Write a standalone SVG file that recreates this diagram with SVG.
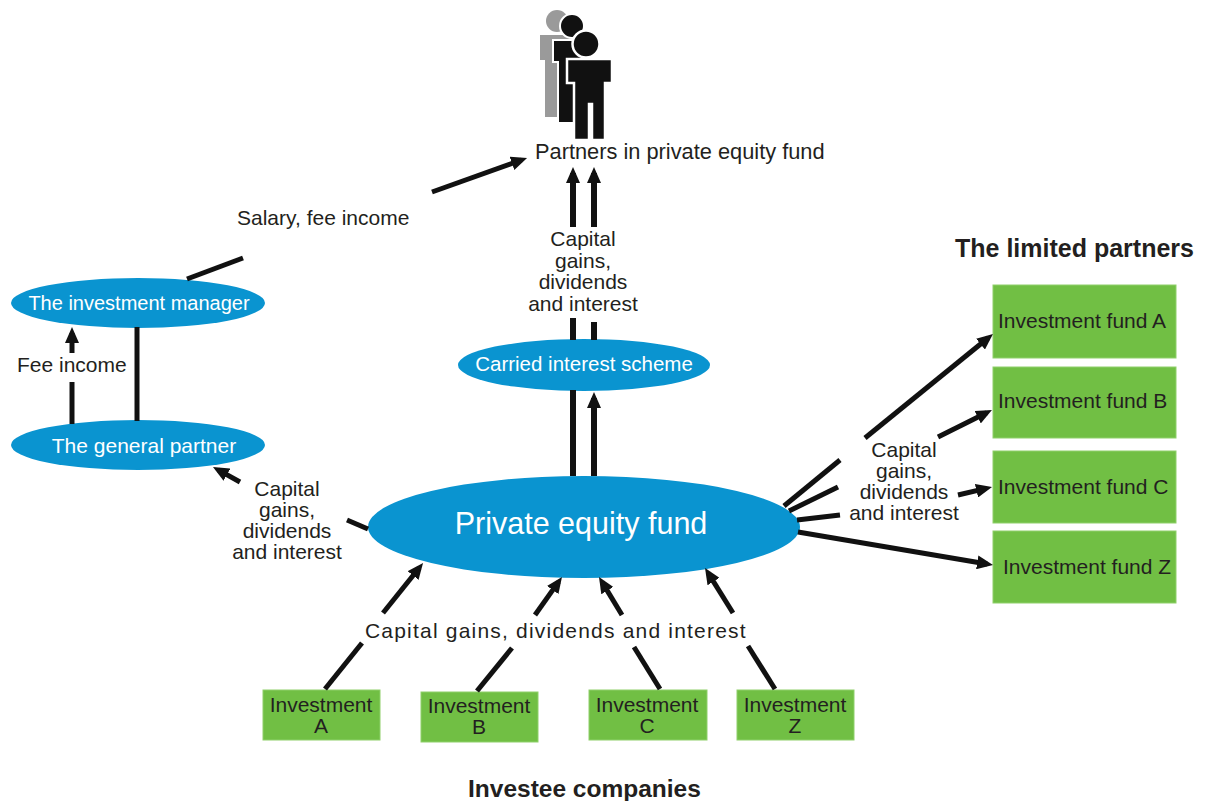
<svg xmlns="http://www.w3.org/2000/svg" width="1206" height="801" viewBox="0 0 1206 801">
<style>
.t{font-family:"Liberation Sans",Arial,sans-serif;font-size:21px;fill:#231f20}
.w{font-family:"Liberation Sans",Arial,sans-serif;fill:#ffffff;text-anchor:middle}
.b{font-family:"Liberation Sans",Arial,sans-serif;font-weight:bold;fill:#231f20}
.m{text-anchor:middle}
.ell{fill:#0a94d0}
.box{fill:#71bf44;stroke:#8fd06a;stroke-width:1}
.ln{stroke:#111111;stroke-width:5;fill:none}
.ar{stroke:#111111;stroke-width:5;fill:none;marker-end:url(#ah)}
.th{stroke-width:6}
</style>
<defs>
<marker id="ah" markerUnits="userSpaceOnUse" viewBox="0 0 16 14" markerWidth="16" markerHeight="14" refX="10" refY="7" orient="auto">
<path d="M0,0 L16,7 L0,14 z" fill="#111111"/>
</marker>
</defs>
<rect width="1206" height="801" fill="#ffffff"/>

<g id="partners">
<g fill="#9a9a9a">
<circle cx="557" cy="21" r="11"/>
<path d="M540,35 L572,35 L572,60 L567,60 L567,117 L545,117 L545,60 L540,60 Z"/>
</g>
<g fill="#111111" stroke="#ffffff" stroke-width="2">
<circle cx="572" cy="26" r="12"/>
<path d="M553,40 L586,40 L586,62 L581,62 L581,123 L558,123 L558,62 L553,62 Z"/>
</g>
<g fill="#111111" stroke="#ffffff" stroke-width="2.5">
<circle cx="586" cy="44" r="13.5"/>
<path d="M567,59 L612,59 L612,83 L605,83 L605,140 L592,140 L592,104 L589,104 L589,140 L574,140 L574,83 L567,83 Z"/>
</g>
<text class="t" x="535" y="159" style="font-size:21.8px">Partners in private equity fund</text>
</g>

<g id="investment-manager">
<ellipse class="ell" cx="138" cy="303" rx="127" ry="25"/>
<text class="w" x="139" y="310" font-size="20">The investment manager</text>
</g>

<g id="general-partner">
<ellipse class="ell" cx="138" cy="445" rx="127" ry="25"/>
<text class="w" x="144" y="453" font-size="21">The general partner</text>
</g>

<g id="carried-interest">
<ellipse class="ell" cx="584" cy="365" rx="126" ry="26"/>
<text class="w" x="584" y="371" font-size="20.5">Carried interest scheme</text>
</g>

<g id="private-equity-fund">
<ellipse class="ell" cx="584" cy="527" rx="216" ry="51"/>
<text class="w" x="581" y="534" font-size="30.5">Private equity fund</text>
</g>

<g id="limited-partners">
<text class="b" x="955" y="257" font-size="25">The limited partners</text>
</g>
<g id="fund-a">
<rect class="box" x="993" y="285" width="183" height="73"/>
<text class="t" x="998" y="328">Investment fund A</text>
</g>
<g id="fund-b">
<rect class="box" x="993" y="367" width="183" height="71"/>
<text class="t" x="998" y="408">Investment fund B</text>
</g>
<g id="fund-c">
<rect class="box" x="993" y="451" width="183" height="72"/>
<text class="t" x="998" y="494">Investment fund C</text>
</g>
<g id="fund-z">
<rect class="box" x="993" y="531" width="183" height="72"/>
<text class="t" x="1003" y="574">Investment fund Z</text>
</g>

<g id="investment-a">
<rect class="box" x="263" y="690" width="117" height="50"/>
<text class="t m" x="321" y="712">Investment<tspan x="321" y="733">A</tspan></text>
</g>
<g id="investment-b">
<rect class="box" x="421" y="692" width="117" height="50"/>
<text class="t m" x="479" y="713">Investment<tspan x="479" y="734">B</tspan></text>
</g>
<g id="investment-c">
<rect class="box" x="589" y="690" width="118" height="50"/>
<text class="t m" x="647" y="712">Investment<tspan x="647" y="733">C</tspan></text>
</g>
<g id="investment-z">
<rect class="box" x="737" y="690" width="117" height="50"/>
<text class="t m" x="795" y="712">Investment<tspan x="795" y="733">Z</tspan></text>
</g>
<g id="investee-companies">
<text class="b" x="468" y="797" font-size="24.5">Investee companies</text>
</g>

<g id="connectors">
<line class="ar" x1="432" y1="192" x2="521.4" y2="160"/>
<line class="ln" x1="187" y1="279" x2="243" y2="258"/>
<line class="ar th" x1="573" y1="227" x2="573" y2="173"/>
<line class="ar th" x1="594" y1="227" x2="594" y2="173"/>
<line class="ln th" x1="573" y1="318" x2="573" y2="340"/>
<line class="ln th" x1="594" y1="322" x2="594" y2="340"/>
<line class="ln th" x1="573" y1="476" x2="573" y2="390"/>
<line class="ar th" x1="594" y1="476" x2="594" y2="398"/>
<line class="ar" x1="72" y1="353" x2="72" y2="333"/>
<line class="ln" x1="72" y1="382" x2="72" y2="424"/>
<line class="ln" x1="137" y1="327" x2="137" y2="421"/>
<line class="ar" x1="240" y1="482" x2="218.2" y2="469.9"/>
<line class="ln" x1="347" y1="520" x2="368" y2="529"/>
<line class="ln" x1="325" y1="689" x2="362" y2="643"/>
<line class="ar" x1="383" y1="613" x2="419.3" y2="567.7"/>
<line class="ln" x1="477" y1="691" x2="512" y2="648"/>
<line class="ar" x1="535" y1="615" x2="558.5" y2="581.9"/>
<line class="ln" x1="660" y1="689" x2="634" y2="647"/>
<line class="ar" x1="622" y1="615" x2="602.1" y2="582.1"/>
<line class="ln" x1="775" y1="689" x2="748" y2="646"/>
<line class="ar" x1="733" y1="613" x2="708.2" y2="573.1"/>
<line class="ln" x1="784" y1="506" x2="840" y2="460"/>
<line class="ar" x1="865" y1="438" x2="988.3" y2="337.8"/>
<line class="ln" x1="789" y1="511" x2="838" y2="487"/>
<line class="ar" x1="938" y1="437" x2="986.6" y2="412.7"/>
<line class="ln" x1="797" y1="520" x2="840" y2="515"/>
<line class="ar" x1="958" y1="495" x2="986.2" y2="488.4"/>
<line class="ar" x1="798" y1="532" x2="987.1" y2="564"/>
</g>

<g id="labels">
<text class="t" x="237" y="225">Salary, fee income</text>
<text class="t" x="17" y="372">Fee income</text>
<text class="t m" x="583" y="246">Capital<tspan x="583" y="268">gains,</tspan><tspan x="583" y="289">dividends</tspan><tspan x="583" y="311">and interest</tspan></text>
<text class="t m" x="287" y="496">Capital<tspan x="287" y="517">gains,</tspan><tspan x="287" y="538">dividends</tspan><tspan x="287" y="559">and interest</tspan></text>
<text class="t m" x="904" y="457">Capital<tspan x="904" y="478">gains,</tspan><tspan x="904" y="499">dividends</tspan><tspan x="904" y="520">and interest</tspan></text>
<text class="t" x="365" y="638" letter-spacing="1.2">Capital gains, dividends and interest</text>
</g>
</svg>
